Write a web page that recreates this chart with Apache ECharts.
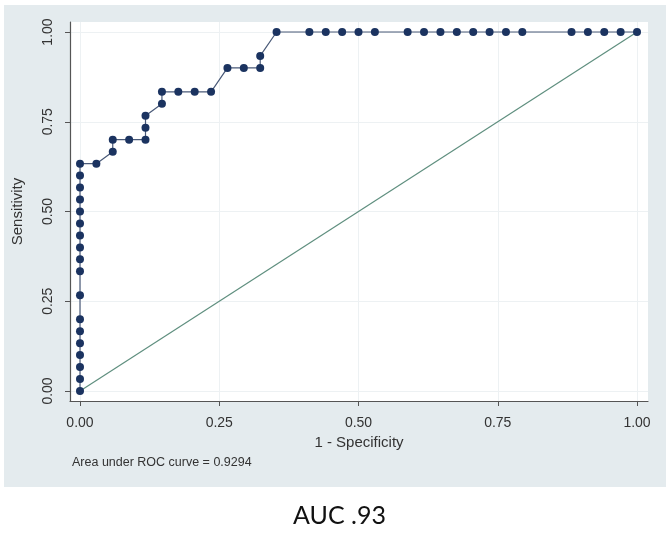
<!DOCTYPE html>
<html>
<head>
<meta charset="utf-8">
<script src="https://cdn.jsdelivr.net/npm/echarts@6/dist/echarts.min.js"></script>
<style>
  html, body { margin: 0; padding: 0; background: #fff; }
  #chart { width: 671px; height: 535px; }
</style>
</head>
<body>
<div id="chart"></div>
<script>
// ROC curve points (1 - specificity, sensitivity)
const fpr = [0, 0, 0, 0, 0, 0, 0, 0, 0, 0, 0, 0, 0, 0, 0, 0, 0, 0,
  0.0294, 0.0588, 0.0588, 0.0882, 0.1176, 0.1176, 0.1176, 0.1471, 0.1471,
  0.1765, 0.2059, 0.2353, 0.2647, 0.2941, 0.3235, 0.3235, 0.3529,
  0.4118, 0.4412, 0.4706, 0.5, 0.5294, 0.5882, 0.6176, 0.6471, 0.6765,
  0.7059, 0.7353, 0.7647, 0.7941, 0.8824, 0.9118, 0.9412, 0.9706, 1];
const tpr = [0, 0.0333, 0.0667, 0.1, 0.1333, 0.1667, 0.2, 0.2667, 0.3333,
  0.3667, 0.4, 0.4333, 0.4667, 0.5, 0.5333, 0.5667, 0.6, 0.6333,
  0.6333, 0.6667, 0.7, 0.7, 0.7, 0.7333, 0.7667, 0.8, 0.8333,
  0.8333, 0.8333, 0.8333, 0.9, 0.9, 0.9, 0.9333, 1,
  1, 1, 1, 1, 1, 1, 1, 1, 1,
  1, 1, 1, 1, 1, 1, 1, 1, 1];
const refLine = [[0, 0], [1, 1]];
const tickValues = [0, 0.25, 0.5, 0.75, 1];
const aucNote = 'Area under ROC curve = 0.9294';
const caption = 'AUC .93';

const chart = echarts.init(document.getElementById('chart'), null, { renderer: 'canvas' });

const axisColor = '#555';
const labelFont = { fontFamily: 'Liberation Sans', fontSize: 14, color: '#333' };

chart.setOption({
  backgroundColor: '#fff',
  animation: false,
  graphic: [
    { type: 'rect', z: -10, shape: { x: 4, y: 5, width: 662, height: 482 }, style: { fill: '#e4ebee' } },
    { type: 'text', left: 72, top: 456, style: { text: aucNote, font: '12.5px "Liberation Sans"', fill: '#333' } },
    { type: 'text', left: 293, top: 503, style: { text: caption, font: '25px Lato', fill: '#111' } }
  ],
  grid: {
    left: 70, right: 23, top: 22, bottom: 134,
    show: true, backgroundColor: '#fff', borderWidth: 0
  },
  xAxis: {
    type: 'value',
    min: -0.01795, max: 1.0197,
    name: '1 - Specificity', nameLocation: 'middle', nameGap: 22,
    nameTextStyle: { fontFamily: 'Liberation Sans', fontSize: 15, color: '#333' },
    axisLine: { show: true, onZero: false, lineStyle: { color: axisColor, width: 1.2 } },
    axisTick: { show: true, length: 5, customValues: tickValues, lineStyle: { color: axisColor } },
    axisLabel: Object.assign({ customValues: tickValues, margin: 15,
      formatter: v => v.toFixed(2) }, labelFont),
    splitLine: { show: true, lineStyle: { color: '#edf1f3', width: 1 } }
  },
  yAxis: {
    type: 'value',
    min: -0.02786, max: 1.02786,
    name: 'Sensitivity', nameLocation: 'middle', nameGap: 45, nameRotate: 90,
    nameTextStyle: { fontFamily: 'Liberation Sans', fontSize: 15, color: '#333' },
    axisLine: { show: true, onZero: false, lineStyle: { color: axisColor, width: 1.2 } },
    axisTick: { show: true, length: 5, customValues: tickValues, lineStyle: { color: axisColor } },
    axisLabel: Object.assign({ customValues: tickValues, margin: 15, rotate: 90,
      formatter: v => v.toFixed(2) }, labelFont),
    splitLine: { show: true, lineStyle: { color: '#edf1f3', width: 1 } }
  },
  series: [
    {
      type: 'line',
      data: refLine,
      showSymbol: false,
      lineStyle: { color: '#5f8f7f', width: 1.2 },
      z: 2
    },
    {
      type: 'line',
      data: fpr.map((x, i) => [x, tpr[i]]),
      symbol: 'circle',
      symbolSize: 8,
      itemStyle: { color: '#1b3360' },
      lineStyle: { color: '#4a5a78', width: 1.2 },
      z: 3
    }
  ]
});
</script>
</body>
</html>
